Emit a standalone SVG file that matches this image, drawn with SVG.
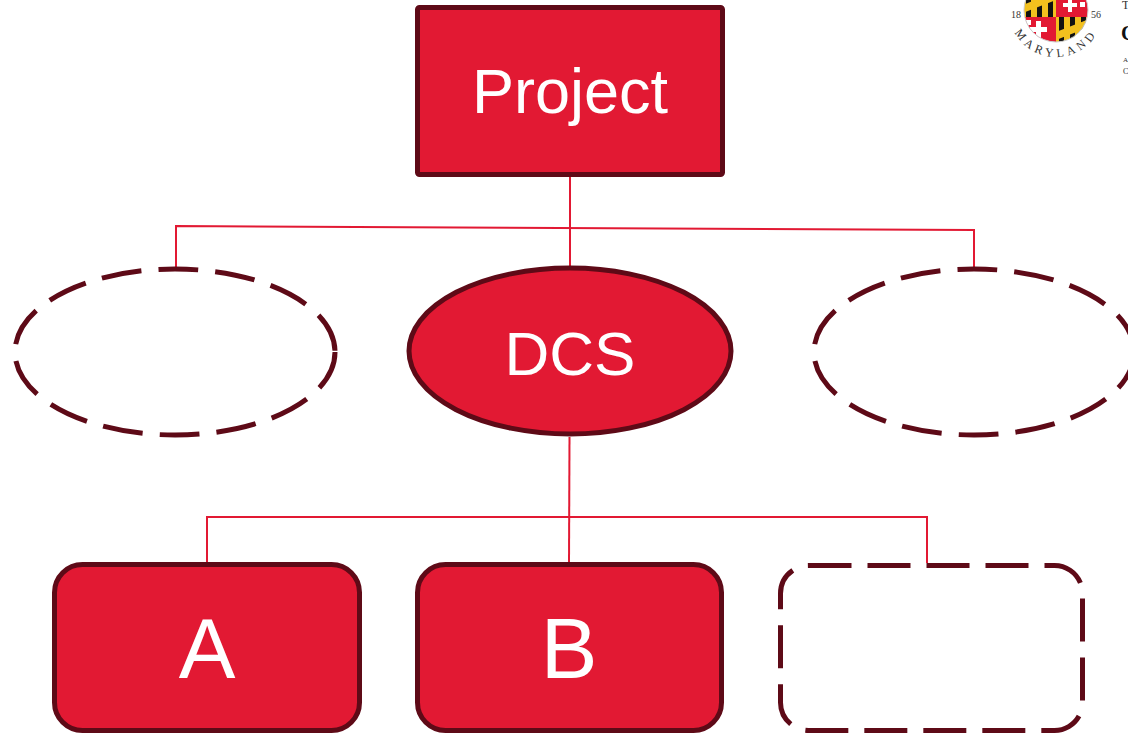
<svg xmlns="http://www.w3.org/2000/svg" width="1128" height="737" viewBox="0 0 1128 737">
<style>
.solid{fill:#E21933;stroke:#5E0A17;stroke-width:5}
.dash{fill:none;stroke:#5E0A17;stroke-width:5}
.de{stroke-dasharray:40 17}
.dr{stroke-dasharray:43 16}
.lbl{font-family:"Liberation Sans",Arial,sans-serif;fill:#FFFFFF;text-anchor:middle}
.conn{fill:none;stroke:#E21933;stroke-width:2}
.serif{font-family:"Liberation Serif","Times New Roman",serif;fill:#333333}
</style>
<defs>
<clipPath id="logoClip"><circle cx="1056" cy="10" r="32"/></clipPath>
<path id="arcPath" d="M 1009 10 A 47 47 0 0 0 1103 10"/>
</defs>
<rect width="1128" height="737" fill="#FFFFFF"/>

<g id="connectors">
<path class="conn" d="M 570 177 L 570 268"/>
<path class="conn" d="M 176 268 L 176 226 L 974 230 L 974 268"/>
<path class="conn" d="M 569.5 437 L 569 563"/>
<path class="conn" d="M 207 563 L 207 517 L 927 517 L 927 563"/>
</g>

<g id="node-project">
<rect class="solid" x="417.5" y="7.5" width="305" height="167" rx="2"/>
<text class="lbl" x="570" y="113" font-size="63">Project</text>
</g>

<g id="node-left-ellipse">
<ellipse class="dash de" cx="175" cy="352" rx="160" ry="83"/>
</g>

<g id="node-dcs">
<ellipse class="solid" cx="570" cy="351" rx="161" ry="83"/>
<text class="lbl" x="570" y="375" font-size="62">DCS</text>
</g>

<g id="node-right-ellipse">
<ellipse class="dash de" cx="974" cy="352" rx="160" ry="83"/>
</g>

<g id="node-a">
<rect class="solid" x="54.5" y="564.5" width="305" height="166" rx="28"/>
<text class="lbl" x="207" y="678" font-size="85">A</text>
</g>

<g id="node-b">
<rect class="solid" x="417.5" y="564.5" width="304" height="166" rx="28"/>
<text class="lbl" x="569" y="678" font-size="85">B</text>
</g>

<g id="node-c">
<rect class="dash dr" x="780.5" y="565.5" width="302" height="165" rx="28"/>
</g>

<g id="logo">
<g clip-path="url(#logoClip)">
<rect x="1020" y="-25" width="36" height="42" fill="#F2C01E"/>
<path d="M1026 -25h5v42h-5z M1037 -25h5v42h-5z M1048 -25h5v42h-5z" fill="#111111"/>
<path d="M1020 6 L1056 -8 L1056 0 L1020 14 Z" fill="#F2C01E"/>
<rect x="1056" y="-25" width="36" height="42" fill="#E21933"/>
<path d="M1068 -2h4v5h5v4h-5v5h-4v-5h-5v-4h5z" fill="#FFFFFF"/>
<path d="M1080 2h5v5h-5z M1072 -12h5v5h-5z" fill="#FFFFFF"/>
<rect x="1020" y="17" width="36" height="27" fill="#E21933"/>
<path d="M1036 21h5v6h6v5h-6v6h-5v-6h-6v-5h6z" fill="#FFFFFF"/>
<path d="M1025 20h6v5h-6z" fill="#FFFFFF"/>
<rect x="1056" y="17" width="36" height="27" fill="#F2C01E"/>
<path d="M1059 17h5v27h-5z M1070 17h5v27h-5z M1081 17h5v27h-5z" fill="#111111"/>
<path d="M1056 32 L1092 18 L1092 26 L1056 40 Z" fill="#F2C01E"/>
</g>
<circle cx="1056" cy="10" r="32" fill="none" stroke="#CCCCCC" stroke-width="1"/>
<text class="serif" x="1016" y="18" font-size="10" text-anchor="middle">18</text>
<text class="serif" x="1096" y="18" font-size="10" text-anchor="middle">56</text>
<text class="serif" font-size="12" letter-spacing="4"><textPath href="#arcPath" startOffset="50%" text-anchor="middle">MARYLAND</textPath></text>
<text class="serif" x="1122" y="9" font-size="12" fill="#111111">T</text>
<text x="1121" y="40" font-size="20" font-weight="bold" font-family="Liberation Serif,serif" fill="#111111">C</text>
<text class="serif" x="1123" y="62" font-size="7">A</text>
<text class="serif" x="1123" y="74" font-size="8">C</text>
</g>
</svg>
